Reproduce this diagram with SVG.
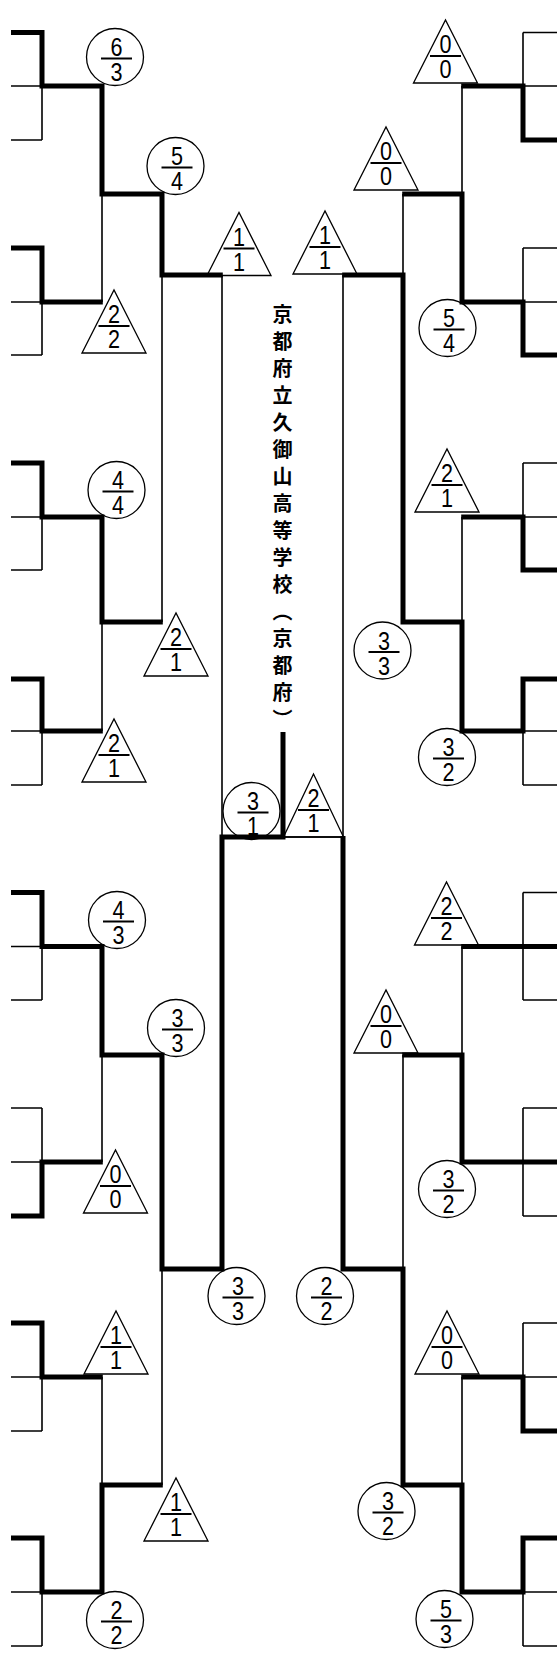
<svg xmlns="http://www.w3.org/2000/svg" width="557" height="1663" viewBox="0 0 557 1663">
<style>
.thin{fill:none;stroke:#000;stroke-width:1.6}
.thick{fill:none;stroke:#000;stroke-width:5;stroke-linejoin:miter;stroke-linecap:butt}
.c{fill:#fff;stroke:#000;stroke-width:1.3}
.t{fill:#fff;stroke:#000;stroke-width:1.3;stroke-linejoin:miter}
.fr{stroke:#000;stroke-width:2}
.d{font-family:"Liberation Sans",Arial,sans-serif;font-size:25px;text-anchor:middle;fill:#000}
.title{font-family:"Noto Sans CJK JP","Noto Sans CJK SC",sans-serif;font-size:20px;font-weight:bold;fill:#000;writing-mode:vertical-rl;letter-spacing:7px}
</style>
<rect x="0" y="0" width="557" height="1663" fill="#fff"/>

<g id="scores">
<g id="c1"><circle class="c" cx="115" cy="57" r="28.5"/><line class="fr" x1="101" y1="58.5" x2="132" y2="58.5"/><text class="d" x="116.5" y="56" textLength="12" lengthAdjust="spacingAndGlyphs">6</text><text class="d" x="116.5" y="81" textLength="12" lengthAdjust="spacingAndGlyphs">3</text></g>
<g id="c2"><circle class="c" cx="175.5" cy="166" r="28.5"/><line class="fr" x1="161.5" y1="167.5" x2="192.5" y2="167.5"/><text class="d" x="177" y="165" textLength="12" lengthAdjust="spacingAndGlyphs">5</text><text class="d" x="177" y="190" textLength="12" lengthAdjust="spacingAndGlyphs">4</text></g>
<g id="c3"><circle class="c" cx="116.5" cy="490" r="28.5"/><line class="fr" x1="102.5" y1="491.5" x2="133.5" y2="491.5"/><text class="d" x="118" y="489" textLength="12" lengthAdjust="spacingAndGlyphs">4</text><text class="d" x="118" y="514" textLength="12" lengthAdjust="spacingAndGlyphs">4</text></g>
<g id="c4"><circle class="c" cx="382.5" cy="650.5" r="28.5"/><line class="fr" x1="368.5" y1="652" x2="399.5" y2="652"/><text class="d" x="384" y="649.5" textLength="12" lengthAdjust="spacingAndGlyphs">3</text><text class="d" x="384" y="674.5" textLength="12" lengthAdjust="spacingAndGlyphs">3</text></g>
<g id="c5"><circle class="c" cx="447.5" cy="328" r="28.5"/><line class="fr" x1="433.5" y1="329.5" x2="464.5" y2="329.5"/><text class="d" x="449" y="327" textLength="12" lengthAdjust="spacingAndGlyphs">5</text><text class="d" x="449" y="352" textLength="12" lengthAdjust="spacingAndGlyphs">4</text></g>
<g id="c6"><circle class="c" cx="447" cy="757" r="28.5"/><line class="fr" x1="433" y1="758.5" x2="464" y2="758.5"/><text class="d" x="448.5" y="756" textLength="12" lengthAdjust="spacingAndGlyphs">3</text><text class="d" x="448.5" y="781" textLength="12" lengthAdjust="spacingAndGlyphs">2</text></g>
<g id="c7"><circle class="c" cx="251.5" cy="811" r="28.5"/><line class="fr" x1="237.5" y1="812.5" x2="268.5" y2="812.5"/><text class="d" x="253" y="810" textLength="12" lengthAdjust="spacingAndGlyphs">3</text><text class="d" x="253" y="835" textLength="12" lengthAdjust="spacingAndGlyphs">1</text></g>
<g id="c8"><circle class="c" cx="117" cy="920" r="28.5"/><line class="fr" x1="103" y1="921.5" x2="134" y2="921.5"/><text class="d" x="118.5" y="919" textLength="12" lengthAdjust="spacingAndGlyphs">4</text><text class="d" x="118.5" y="944" textLength="12" lengthAdjust="spacingAndGlyphs">3</text></g>
<g id="c9"><circle class="c" cx="176" cy="1028" r="28.5"/><line class="fr" x1="162" y1="1029.5" x2="193" y2="1029.5"/><text class="d" x="177.5" y="1027" textLength="12" lengthAdjust="spacingAndGlyphs">3</text><text class="d" x="177.5" y="1052" textLength="12" lengthAdjust="spacingAndGlyphs">3</text></g>
<g id="c10"><circle class="c" cx="447" cy="1189" r="28.5"/><line class="fr" x1="433" y1="1190.5" x2="464" y2="1190.5"/><text class="d" x="448.5" y="1188" textLength="12" lengthAdjust="spacingAndGlyphs">3</text><text class="d" x="448.5" y="1213" textLength="12" lengthAdjust="spacingAndGlyphs">2</text></g>
<g id="c11"><circle class="c" cx="236.5" cy="1296" r="28.5"/><line class="fr" x1="222.5" y1="1297.5" x2="253.5" y2="1297.5"/><text class="d" x="238" y="1295" textLength="12" lengthAdjust="spacingAndGlyphs">3</text><text class="d" x="238" y="1320" textLength="12" lengthAdjust="spacingAndGlyphs">3</text></g>
<g id="c12"><circle class="c" cx="325" cy="1296" r="28.5"/><line class="fr" x1="311" y1="1297.5" x2="342" y2="1297.5"/><text class="d" x="326.5" y="1295" textLength="12" lengthAdjust="spacingAndGlyphs">2</text><text class="d" x="326.5" y="1320" textLength="12" lengthAdjust="spacingAndGlyphs">2</text></g>
<g id="c13"><circle class="c" cx="115" cy="1620" r="28.5"/><line class="fr" x1="101" y1="1621.5" x2="132" y2="1621.5"/><text class="d" x="116.5" y="1619" textLength="12" lengthAdjust="spacingAndGlyphs">2</text><text class="d" x="116.5" y="1644" textLength="12" lengthAdjust="spacingAndGlyphs">2</text></g>
<g id="c14"><circle class="c" cx="386.5" cy="1511" r="28.5"/><line class="fr" x1="372.5" y1="1512.5" x2="403.5" y2="1512.5"/><text class="d" x="388" y="1510" textLength="12" lengthAdjust="spacingAndGlyphs">3</text><text class="d" x="388" y="1535" textLength="12" lengthAdjust="spacingAndGlyphs">2</text></g>
<g id="c15"><circle class="c" cx="444.5" cy="1619" r="28.5"/><line class="fr" x1="430.5" y1="1620.5" x2="461.5" y2="1620.5"/><text class="d" x="446" y="1618" textLength="12" lengthAdjust="spacingAndGlyphs">5</text><text class="d" x="446" y="1643" textLength="12" lengthAdjust="spacingAndGlyphs">3</text></g>

<g id="t1"><polygon class="t" points="207,275.5 239,212.5 271,275.5"/><line class="fr" x1="223.5" y1="248.5" x2="254.5" y2="248.5"/><text class="d" x="239" y="245.5" textLength="12" lengthAdjust="spacingAndGlyphs">1</text><text class="d" x="239" y="270.5" textLength="12" lengthAdjust="spacingAndGlyphs">1</text></g>
<g id="t2"><polygon class="t" points="82,353 114,290 146,353"/><line class="fr" x1="98.5" y1="326" x2="129.5" y2="326"/><text class="d" x="114" y="323" textLength="12" lengthAdjust="spacingAndGlyphs">2</text><text class="d" x="114" y="348" textLength="12" lengthAdjust="spacingAndGlyphs">2</text></g>
<g id="t3"><polygon class="t" points="144,676 176,613 208,676"/><line class="fr" x1="160.5" y1="649" x2="191.5" y2="649"/><text class="d" x="176" y="646" textLength="12" lengthAdjust="spacingAndGlyphs">2</text><text class="d" x="176" y="671" textLength="12" lengthAdjust="spacingAndGlyphs">1</text></g>
<g id="t4"><polygon class="t" points="82,782 114,719 146,782"/><line class="fr" x1="98.5" y1="755" x2="129.5" y2="755"/><text class="d" x="114" y="752" textLength="12" lengthAdjust="spacingAndGlyphs">2</text><text class="d" x="114" y="777" textLength="12" lengthAdjust="spacingAndGlyphs">1</text></g>
<g id="t5"><polygon class="t" points="413.5,83 445.5,20 477.5,83"/><line class="fr" x1="430" y1="56" x2="461" y2="56"/><text class="d" x="445.5" y="53" textLength="12" lengthAdjust="spacingAndGlyphs">0</text><text class="d" x="445.5" y="78" textLength="12" lengthAdjust="spacingAndGlyphs">0</text></g>
<g id="t6"><polygon class="t" points="354,190 386,127 418,190"/><line class="fr" x1="370.5" y1="163" x2="401.5" y2="163"/><text class="d" x="386" y="160" textLength="12" lengthAdjust="spacingAndGlyphs">0</text><text class="d" x="386" y="185" textLength="12" lengthAdjust="spacingAndGlyphs">0</text></g>
<g id="t7"><polygon class="t" points="293,274 325,211 357,274"/><line class="fr" x1="309.5" y1="247" x2="340.5" y2="247"/><text class="d" x="325" y="244" textLength="12" lengthAdjust="spacingAndGlyphs">1</text><text class="d" x="325" y="269" textLength="12" lengthAdjust="spacingAndGlyphs">1</text></g>
<g id="t8"><polygon class="t" points="415,512 447,449 479,512"/><line class="fr" x1="431.5" y1="485" x2="462.5" y2="485"/><text class="d" x="447" y="482" textLength="12" lengthAdjust="spacingAndGlyphs">2</text><text class="d" x="447" y="507" textLength="12" lengthAdjust="spacingAndGlyphs">1</text></g>
<g id="t9"><polygon class="t" points="283.5,837 313.5,774 343.5,837"/><line class="fr" x1="298" y1="810" x2="329" y2="810"/><text class="d" x="313.5" y="807" textLength="12" lengthAdjust="spacingAndGlyphs">2</text><text class="d" x="313.5" y="832" textLength="12" lengthAdjust="spacingAndGlyphs">1</text></g>
<g id="t10"><polygon class="t" points="83.5,1213 115.5,1150 147.5,1213"/><line class="fr" x1="100" y1="1186" x2="131" y2="1186"/><text class="d" x="115.5" y="1183" textLength="12" lengthAdjust="spacingAndGlyphs">0</text><text class="d" x="115.5" y="1208" textLength="12" lengthAdjust="spacingAndGlyphs">0</text></g>
<g id="t11"><polygon class="t" points="414.5,945 446.5,882 478.5,945"/><line class="fr" x1="431" y1="918" x2="462" y2="918"/><text class="d" x="446.5" y="915" textLength="12" lengthAdjust="spacingAndGlyphs">2</text><text class="d" x="446.5" y="940" textLength="12" lengthAdjust="spacingAndGlyphs">2</text></g>
<g id="t12"><polygon class="t" points="354,1053 386,990 418,1053"/><line class="fr" x1="370.5" y1="1026" x2="401.5" y2="1026"/><text class="d" x="386" y="1023" textLength="12" lengthAdjust="spacingAndGlyphs">0</text><text class="d" x="386" y="1048" textLength="12" lengthAdjust="spacingAndGlyphs">0</text></g>
<g id="t13"><polygon class="t" points="84,1374 116,1311 148,1374"/><line class="fr" x1="100.5" y1="1347" x2="131.5" y2="1347"/><text class="d" x="116" y="1344" textLength="12" lengthAdjust="spacingAndGlyphs">1</text><text class="d" x="116" y="1369" textLength="12" lengthAdjust="spacingAndGlyphs">1</text></g>
<g id="t14"><polygon class="t" points="144,1541 176,1478 208,1541"/><line class="fr" x1="160.5" y1="1514" x2="191.5" y2="1514"/><text class="d" x="176" y="1511" textLength="12" lengthAdjust="spacingAndGlyphs">1</text><text class="d" x="176" y="1536" textLength="12" lengthAdjust="spacingAndGlyphs">1</text></g>
<g id="t15"><polygon class="t" points="415,1374 447,1311 479,1374"/><line class="fr" x1="431.5" y1="1347" x2="462.5" y2="1347"/><text class="d" x="447" y="1344" textLength="12" lengthAdjust="spacingAndGlyphs">0</text><text class="d" x="447" y="1369" textLength="12" lengthAdjust="spacingAndGlyphs">0</text></g>
</g>

<g id="champion"><text class="title" x="282.5" y="304">京都府立久御山高等学校（京都府）</text></g>

<g id="connectors">
<path class="thin" d="M11,32.5H42M11,86H42M11,140H42M42,32.5V140
M11,248H42M11,302H42M11,355H42M42,248V355
M11,463H42M11,517H42M11,570H42M42,463V570
M11,679H42M11,731H42M11,785H42M42,679V785
M11,892.5H42M11,946.5H42M11,1000H42M42,892.5V1000
M11,1108H42M11,1162H42M11,1216H42M42,1108V1216
M11,1323H42M11,1377H42M11,1431H42M42,1323V1431
M11,1538H42M11,1592H42M11,1646H42M42,1538V1646
M102,86V302M102,517V731M102,946.5V1162M102,1377V1592
M162,194V622M162,1055V1485
M222,275V1269
M222,837H343
M523,32.5H557M523,86H557M523,140H557M523,32.5V140
M523,248H557M523,302H557M523,355H557M523,248V355
M523,463H557M523,517H557M523,570H557M523,463V570
M523,679H557M523,731H557M523,785H557M523,679V785
M523,892.5H557M523,946.5H557M523,1000H557M523,892.5V1000
M523,1108H557M523,1162H557M523,1216H557M523,1108V1216
M523,1323H557M523,1377H557M523,1431H557M523,1323V1431
M523,1538H557M523,1592H557M523,1646H557M523,1538V1646
M462,86V302M462,517V731M462,946.5V1162M462,1377V1592
M403,194V622M403,1055V1485
M343,275V1269"/>
<path class="thick" d="M11,32.5H42V86H102V194H162V275H222.8"/>
<path class="thick" d="M11,248H42V302H102.8"/>
<path class="thick" d="M11,463H42V517H102V622H162.8"/>
<path class="thick" d="M11,679H42V731H102.8"/>
<path class="thick" d="M11,892.5H42V946.5H102V1055H162V1269H222V837H283V732"/>
<path class="thick" d="M11,1216H42V1162H102.8"/>
<path class="thick" d="M11,1323H42V1377H102.8"/>
<path class="thick" d="M11,1538H42V1592H102V1485H162.8"/>
<path class="thick" d="M557,140H523V86H461.2"/>
<path class="thick" d="M557,355H523V302H462V194H402.2"/>
<path class="thick" d="M557,570H523V517H461.2"/>
<path class="thick" d="M557,679H523V731H462V622H403V275H342.2"/>
<path class="thick" d="M557,946.5H461.2"/>
<path class="thick" d="M557,1162H462V1055H402.2"/>
<path class="thick" d="M557,1431H523V1377H461.2"/>
<path class="thick" d="M557,1538H523V1592H462V1485H403V1269H343V836"/>
</g>
</svg>
